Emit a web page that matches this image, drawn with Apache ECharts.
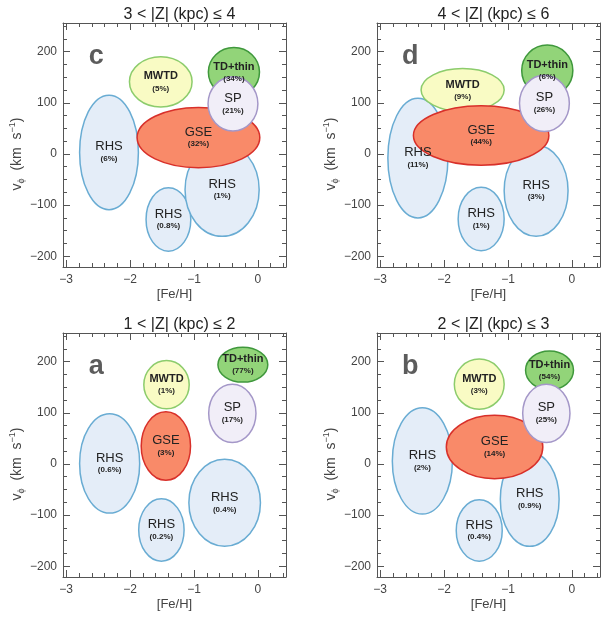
<!DOCTYPE html>
<html>
<head>
<meta charset="utf-8">
<script src="https://cdn.jsdelivr.net/npm/echarts@6/dist/echarts.min.js"></script>
<style>
html,body{margin:0;padding:0;background:#fff;}
#main{width:610px;height:620px;}
</style>
</head>
<body>
<div id="main"></div>
<script>
// ---------------- DATA ----------------
// Panel order on page: c (top-left), d (top-right), a (bottom-left), b (bottom-right)
const panelLetters = ['c', 'd', 'a', 'b'];
const panelTitles = ['3 < |Z| (kpc) ≤ 4', '4 < |Z| (kpc) ≤ 6', '1 < |Z| (kpc) ≤ 2', '2 < |Z| (kpc) ≤ 3'];

// populations in drawing order
const popNames = ['RHS', 'RHS', 'RHS', 'MWTD', 'GSE', 'TD+thin', 'SP'];
const popKinds = ['RHS', 'RHS', 'RHS', 'MWTD', 'GSE', 'TD', 'SP'];

// ellipse centres ([Fe/H], v_phi) and semi-axes (dex, km/s) per panel
const feh_c = [-2.33, -1.40, -0.56, -1.52, -0.93, -0.375, -0.39];
const vphi_c = [3, -128, -70, 141, 32, 160, 98];
const dFeh_c = [0.46, 0.35, 0.58, 0.49, 0.96, 0.40, 0.39];
const dVphi_c = [112, 62, 91, 49, 59, 48, 53];
const pct_c = ['6%', '0.8%', '1%', '5%', '32%', '34%', '21%'];

const feh_d = [-2.41, -1.42, -0.56, -1.71, -1.42, -0.385, -0.43];
const vphi_d = [-8, -127, -72, 125, 36, 163, 99];
const dFeh_d = [0.47, 0.36, 0.50, 0.65, 1.06, 0.40, 0.39];
const dVphi_d = [117, 62, 89, 42, 58, 50, 55];
const pct_d = ['11%', '1%', '3%', '9%', '44%', '6%', '26%'];

const feh_a = [-2.32, -1.51, -0.52, -1.43, -1.44, -0.235, -0.40];
const vphi_a = [1, -129, -76, 155, 35, 194, 99];
const dFeh_a = [0.47, 0.355, 0.56, 0.355, 0.386, 0.39, 0.37];
const dVphi_a = [97, 61, 85, 47, 67, 34, 57];
const pct_a = ['0.6%', '0.2%', '0.4%', '1%', '3%', '77%', '17%'];

const feh_b = [-2.34, -1.45, -0.66, -1.45, -1.21, -0.35, -0.40];
const vphi_b = [6, -130, -69, 156, 33, 183, 99];
const dFeh_b = [0.47, 0.36, 0.46, 0.39, 0.755, 0.375, 0.37];
const dVphi_b = [104, 60, 92, 49, 62, 38, 57];
const pct_b = ['2%', '0.4%', '0.9%', '3%', '14%', '54%', '25%'];

// panel letter position (data coords)
const letterFeh = [-2.53, -2.53, -2.53, -2.53];
const letterVphi = [190, 190, 190, 190];

// axis ticks
const xMajor = [-3, -2, -1, 0];
const xMinor = [-2.8, -2.6, -2.4, -2.2, -1.8, -1.6, -1.4, -1.2, -0.8, -0.6, -0.4, -0.2, 0.2, 0.4];
const yMajor = [-200, -100, 0, 100, 200];
const yMinor = [-175, -150, -125, -75, -50, -25, 25, 50, 75, 125, 150, 175, 225, 250];
const xRange = [-3.05, 0.44];
const yRange = [-221, 256];

// ---------------- STYLE ----------------
const kindStyle = {
  RHS:  { fill: '#e4edf8', stroke: '#69acd3' },
  MWTD: { fill: '#f9fbc4', stroke: '#8ccc6c' },
  GSE:  { fill: '#f98a69', stroke: '#d8302a' },
  TD:   { fill: '#92d479', stroke: '#3f983c' },
  SP:   { fill: '#f1eef8', stroke: '#a497c8' }
};
const gridRects = [
  { left: 63, top: 23 },
  { left: 377, top: 23 },
  { left: 63, top: 333 },
  { left: 377, top: 333 }
];
const GW = 223, GH = 244;
const FONT = '"Liberation Sans", Arial, sans-serif';
const axisColor = '#555';
const labelColor = '#444';

const panels = [
  [feh_c, vphi_c, dFeh_c, dVphi_c, pct_c],
  [feh_d, vphi_d, dFeh_d, dVphi_d, pct_d],
  [feh_a, vphi_a, dFeh_a, dVphi_a, pct_a],
  [feh_b, vphi_b, dFeh_b, dVphi_b, pct_b]
];

const minusFmt = v => String(v).replace('-', '\u2212');

const grid = [], xAxis = [], yAxis = [], series = [], title = [];

panels.forEach((pd, p) => {
  const r = gridRects[p];
  grid.push({ left: r.left, top: r.top, width: GW, height: GH, containLabel: false });
  title.push({
    text: panelTitles[p],
    left: r.left + GW / 2, top: r.top - 21, textAlign: 'center',
    textStyle: { fontFamily: FONT, fontSize: 16, fontWeight: 'normal', color: '#222' }
  });
  const xBase = xAxis.length, yBase = yAxis.length;
  const common = { gridIndex: p, type: 'value', splitLine: { show: false }, scale: false };
  // x axes: bottom major, bottom minor, top major, top minor
  [['bottom', true], ['bottom', false], ['top', true], ['top', false]].forEach(([pos, major], k) => {
    xAxis.push(Object.assign({}, common, {
      position: pos, min: xRange[0], max: xRange[1],
      axisLine: { show: major, onZero: false, lineStyle: { color: axisColor, width: 1 } },
      axisTick: { show: true, inside: true, length: major ? 7 : 4, customValues: major ? xMajor : xMinor,
                  lineStyle: { color: axisColor, width: 1 } },
      axisLabel: k === 0 ? { show: true, customValues: xMajor, formatter: minusFmt, fontFamily: FONT,
                  fontSize: 12, color: labelColor, margin: 7 } : { show: false },
      name: k === 0 ? '[Fe/H]' : '', nameLocation: 'middle', nameGap: 21,
      nameTextStyle: { fontFamily: FONT, fontSize: 13, color: labelColor }
    }));
  });
  [['left', true], ['left', false], ['right', true], ['right', false]].forEach(([pos, major], k) => {
    yAxis.push(Object.assign({}, common, {
      position: pos, min: yRange[0], max: yRange[1],
      axisLine: { show: major, onZero: false, lineStyle: { color: axisColor, width: 1 } },
      axisTick: { show: true, inside: true, length: major ? 7 : 4, customValues: major ? yMajor : yMinor,
                  lineStyle: { color: axisColor, width: 1 } },
      axisLabel: k === 0 ? { show: true, customValues: yMajor, formatter: minusFmt, fontFamily: FONT,
                  fontSize: 12, color: labelColor, margin: 6 } : { show: false },
      name: k === 0 ? '{t|v}{sub|\u03d5}{t|  (km  s}{sup|\u22121}{t|)}' : '',
      nameLocation: 'middle', nameGap: 36, nameRotate: 90,
      nameTextStyle: {
        fontFamily: FONT, color: labelColor, padding: [0, 18, 0, 0],
        rich: {
          t: { fontFamily: FONT, fontSize: 14, color: labelColor, lineHeight: 18, verticalAlign: 'middle' },
          sub: { fontFamily: FONT, fontSize: 9, color: labelColor, lineHeight: 18, verticalAlign: 'bottom' },
          sup: { fontFamily: FONT, fontSize: 9, color: labelColor, lineHeight: 18, verticalAlign: 'top' }
        }
      }
    }));
  });

  const [fe, vp, dfe, dvp, pc] = pd;
  const ellData = fe.map((v, i) => [v, vp[i], dfe[i], dvp[i], i]);
  series.push({
    type: 'custom', xAxisIndex: xBase, yAxisIndex: yBase, silent: true, z: 2,
    data: ellData,
    renderItem: (params, api) => {
      const c = api.coord([api.value(0), api.value(1)]);
      const s = api.size([api.value(2), api.value(3)]);
      const st = kindStyle[popKinds[api.value(4)]];
      return { type: 'ellipse', shape: { cx: c[0], cy: c[1], rx: s[0], ry: s[1] },
               style: { fill: st.fill, stroke: st.stroke, lineWidth: 1.5 } };
    }
  });
  series.push({
    type: 'custom', xAxisIndex: xBase, yAxisIndex: yBase, silent: true, z: 3,
    data: ellData,
    renderItem: (params, api) => {
      const i = api.value(4);
      const c = api.coord([api.value(0), api.value(1)]);
      const nameStyle = (popNames[i] === 'MWTD' || popNames[i] === 'TD+thin') ? 'nb' : 'n';
      return { type: 'text', x: c[0], y: c[1],
        style: {
          text: '{' + nameStyle + '|' + popNames[i] + '}\n{p|(' + pc[i] + ')}',
          align: 'center', verticalAlign: 'middle', fill: '#222',
          rich: {
            n: { fontFamily: FONT, fontSize: 13, fill: '#222', lineHeight: 13 },
            nb: { fontFamily: FONT, fontSize: 11, fontWeight: 'bold', fill: '#222', lineHeight: 13 },
            p: { fontFamily: FONT, fontSize: 8, fontWeight: 'bold', fill: '#222', lineHeight: 11 }
          }
        } };
    }
  });
  series.push({
    type: 'scatter', xAxisIndex: xBase, yAxisIndex: yBase, silent: true, z: 4,
    symbolSize: 0, data: [[letterFeh[p], letterVphi[p]]],
    label: { show: true, position: 'inside', formatter: panelLetters[p], fontFamily: FONT,
             fontSize: 27, fontWeight: 'bold', color: '#333' }
  });
});

const chart = echarts.init(document.getElementById('main'), null, { renderer: 'canvas' });
chart.setOption({
  animation: false,
  backgroundColor: '#fff',
  title, grid, xAxis, yAxis, series
});
</script>
</body>
</html>
